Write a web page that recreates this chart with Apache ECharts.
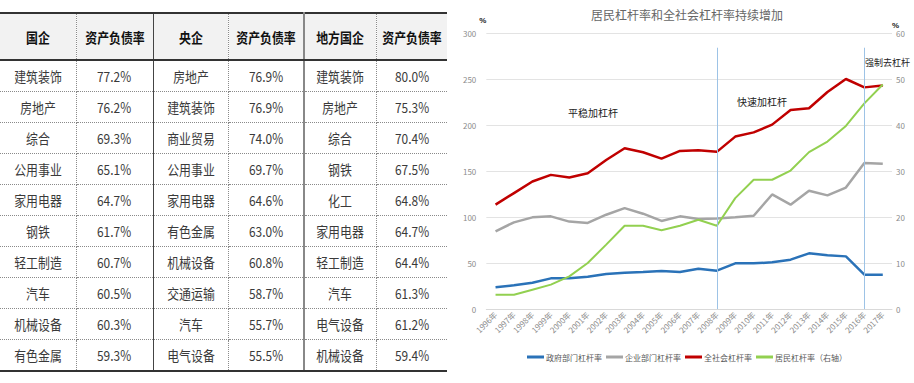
<!DOCTYPE html>
<html><head><meta charset="utf-8">
<script src="https://cdn.jsdelivr.net/npm/echarts@6/dist/echarts.min.js"></script>
<style>
html,body{margin:0;padding:0;background:#fff;width:914px;height:383px;overflow:hidden;font-family:"Noto Sans CJK SC","Noto Sans",sans-serif;}
#tbl{position:absolute;left:0;top:12px;border-collapse:collapse;table-layout:fixed;}
#tbl td,#tbl th{padding:0;text-align:center;vertical-align:middle;font-size:14px;white-space:nowrap;overflow:hidden;}
#tbl th{height:45px;background:#f2f2f2;color:#111;font-weight:bold;border-top:2px solid #333;border-bottom:2px solid #333;}
#tbl td{height:30px;color:#3a3a3a;border-bottom:1px dotted #8a8a8a;}
#tbl tr:last-child td{border-bottom:2px solid #333;}
#tbl .dv{border-right:1px dotted #8a8a8a;}
#tbl .s1{border-right:1px solid #444;}
#tbl .s2{border-right:2px solid #888;}
#tbl span{display:inline-block;transform:scaleX(0.85);}
#chart{position:absolute;left:460px;top:0;width:454px;height:383px;}
</style></head>
<body>
<table id="tbl"></table>
<div id="chart"></div>
<script>
// ---- table data ----
const tableHeaders = ['国企','资产负债率','央企','资产负债率','地方国企','资产负债率'];
const guoqiNames = ['建筑装饰','房地产','综合','公用事业','家用电器','钢铁','轻工制造','汽车','机械设备','有色金属'];
const guoqiRates = ['77.2%','76.2%','69.3%','65.1%','64.7%','61.7%','60.7%','60.5%','60.3%','59.3%'];
const yangqiNames = ['房地产','建筑装饰','商业贸易','公用事业','家用电器','有色金属','机械设备','交通运输','汽车','电气设备'];
const yangqiRates = ['76.9%','76.9%','74.0%','69.7%','64.6%','63.0%','60.8%','58.7%','55.7%','55.5%'];
const difangNames = ['建筑装饰','房地产','综合','钢铁','化工','家用电器','轻工制造','汽车','电气设备','机械设备'];
const difangRates = ['80.0%','75.3%','70.4%','67.5%','64.8%','64.7%','64.4%','61.3%','61.2%','59.4%'];

// ---- chart data ----
const years = ['1996年','1997年','1998年','1999年','2000年','2001年','2002年','2003年','2004年','2005年','2006年','2007年','2008年','2009年','2010年','2011年','2012年','2013年','2014年','2015年','2016年','2017年'];
const govLeverage = [23.6,25.7,28.6,33.3,33.3,35.1,38.0,39.5,40.2,41.3,40.2,43.8,41.7,49.6,49.6,50.7,53.6,60.5,58.3,57.2,37.3,37.3];
const corpLeverage = [84.5,94.2,99.6,100.7,95.0,93.5,102.5,109.7,103.6,95.7,100.7,97.8,98.5,99.6,101.4,124.5,113.4,128.5,123.5,132.0,158.8,157.8];
const totalLeverage = [113.4,126.0,138.6,145.8,143.0,147.6,162.0,174.7,170.4,163.5,171.8,172.6,170.8,187.4,192.0,200.4,216.4,218.2,235.8,250.0,240.9,243.0];
const householdLeverage = [3.1,3.1,4.2,5.3,7.1,10.0,14.0,18.1,18.1,17.1,18.1,19.4,18.1,24.1,28.1,28.1,30.1,34.1,36.4,39.8,44.7,48.8];
const seriesNames = ['政府部门杠杆率','企业部门杠杆率','全社会杠杆率','居民杠杆率（右轴）'];
const phaseLines = ['2008年','2016年'];
const phaseLabels = ['平稳加杠杆','快速加杠杆','强制去杠杆'];
const chartTitle = '居民杠杆率和全社会杠杆率持续增加';

// build table
const colW = [76,77,75,76,72,71];
const cls = ['dv','s1','dv','s2','dv',''];
let html = '<colgroup>' + colW.map(w=>'<col style="width:'+w+'px">').join('') + '</colgroup>';
html += '<tr>' + tableHeaders.map((h,i)=>'<th class="'+cls[i]+'"><span>'+h+'</span></th>').join('') + '</tr>';
for (let r=0;r<guoqiNames.length;r++){
  const cells=[guoqiNames[r],guoqiRates[r],yangqiNames[r],yangqiRates[r],difangNames[r],difangRates[r]];
  html += '<tr>' + cells.map((c,i)=>'<td class="'+cls[i]+'"><span>'+c+'</span></td>').join('') + '</tr>';
}
document.getElementById('tbl').innerHTML = html;

// chart
const chart = echarts.init(document.getElementById('chart'), null, {renderer:'svg'});
const lbl = {color:'#8c8c8c', fontSize:8, fontFamily:'"Noto Sans CJK SC", sans-serif'};
const colors = ['#2a72b8','#a5a5a5','#c00000','#92d050'];
chart.setOption({
  animation:false,
  title:{text:chartTitle,left:'center',top:3,textStyle:{color:'#666',fontSize:12,fontWeight:'normal',fontFamily:'"Noto Sans CJK SC", sans-serif'}},
  legend:{bottom:17,left:'center',itemWidth:17,itemHeight:3,itemGap:4,icon:'rect',
    textStyle:{color:'#595959',fontSize:8,padding:[0,0,0,-3],fontFamily:'"Noto Sans CJK SC", sans-serif'},data:seriesNames},
  grid:{left:23,right:22,top:33,bottom:74},
  xAxis:{type:'category',data:years,boundaryGap:true,
    axisLine:{lineStyle:{color:'#d9d9d9'}},axisTick:{show:false},
    axisLabel:Object.assign({rotate:45,interval:0,margin:4},lbl)},
  yAxis:[
    {type:'value',min:0,max:300,interval:50,name:'%',nameGap:9,
     nameTextStyle:{color:'#222',fontSize:8,fontWeight:'bold',align:'right',padding:[0,0,0,0]},
     axisLine:{show:false},axisTick:{show:false},axisLabel:Object.assign({margin:10},lbl),
     splitLine:{lineStyle:{color:'#e3e3e3'}}},
    {type:'value',min:0,max:60,interval:10,name:'%',nameGap:4,
     nameTextStyle:{color:'#222',fontSize:8,fontWeight:'bold',align:'left'},
     axisLine:{show:false},axisTick:{show:false},axisLabel:Object.assign({margin:4},lbl),
     splitLine:{show:false}}
  ],
  series:[
    {name:seriesNames[0],type:'line',data:govLeverage,symbol:'none',lineStyle:{width:2.5,color:colors[0]},itemStyle:{color:colors[0]},
     markLine:{silent:true,symbol:['none','none'],label:{show:false},lineStyle:{color:'#9dc3e6',width:1,type:'solid'},
       data:phaseLines.map(p=>[{coord:[p,0]},{coord:[p,284]}])}},
    {name:seriesNames[1],type:'line',data:corpLeverage,symbol:'none',lineStyle:{width:2.5,color:colors[1]},itemStyle:{color:colors[1]}},
    {name:seriesNames[2],type:'line',data:totalLeverage,symbol:'none',lineStyle:{width:2.5,color:colors[2]},itemStyle:{color:colors[2]}},
    {name:seriesNames[3],type:'line',yAxisIndex:1,data:householdLeverage,symbol:'none',lineStyle:{width:2,color:colors[3]},itemStyle:{color:colors[3]}}
  ],
  graphic:[
    {type:'text',left:108,top:107,style:{text:phaseLabels[0],fill:'#222',fontSize:10,fontFamily:'"Noto Sans CJK SC", sans-serif'}},
    {type:'text',left:277,top:96,style:{text:phaseLabels[1],fill:'#222',fontSize:10,fontFamily:'"Noto Sans CJK SC", sans-serif'}},
    {type:'text',left:405,top:58,style:{text:phaseLabels[2],fill:'#222',fontSize:9,fontFamily:'"Noto Sans CJK SC", sans-serif'}}
  ]
});
</script>
</body></html>
